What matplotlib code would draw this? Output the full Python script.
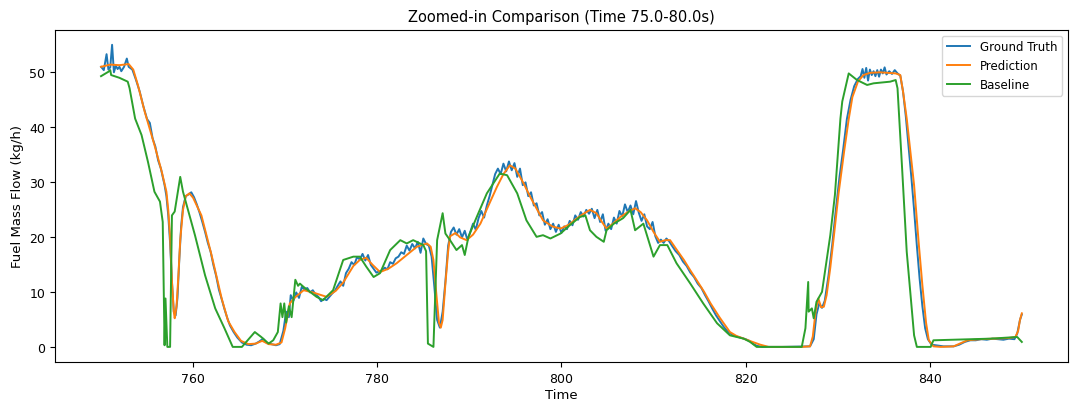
import matplotlib
matplotlib.use("Agg")
import matplotlib.pyplot as plt

# Ground truth (noisy measured signal)
gt_time = [750.0, 750.3, 750.6, 750.8, 751.0, 751.2, 751.4, 751.6, 751.8, 752.0, 752.2, 752.5, 752.8, 753.0,
           753.4, 753.8, 754.2, 754.6, 755.0, 755.3, 755.6, 755.9, 756.2, 756.5, 756.7, 756.9, 757.1, 757.3,
           757.5, 757.7, 757.9, 758.1, 758.3, 758.5, 758.7, 758.9, 759.2, 759.5, 759.8, 760.1, 760.4, 760.7,
           761.0, 761.3, 761.6, 761.9, 762.2, 762.5, 762.8, 763.1, 763.4, 763.7, 764.0, 764.4, 764.8, 765.3,
           765.8, 766.3, 766.8, 767.2, 767.6, 768.0, 768.5, 769.0, 769.4, 769.8, 770.1, 770.4, 770.6, 770.9,
           771.2, 771.5, 771.8, 772.1, 772.4, 772.7, 773.0, 773.3, 773.6, 773.9, 774.2, 774.5, 774.8, 775.1,
           775.4, 775.7, 776.0, 776.3, 776.6, 776.9, 777.2, 777.5, 777.8, 778.1, 778.4, 778.7, 779.0, 779.3,
           779.6, 779.9, 780.2, 780.5, 780.8, 781.1, 781.4, 781.7, 782.0, 782.3, 782.6, 782.9, 783.2, 783.5,
           783.8, 784.1, 784.4, 784.7, 785.0, 785.3, 785.6, 785.9, 786.2, 786.5, 786.8, 787.1, 787.4, 787.7,
           788.0, 788.3, 788.6, 788.9, 789.2, 789.5, 789.8, 790.1, 790.4, 790.7, 791.0, 791.3, 791.6, 791.9,
           792.2, 792.5, 792.8, 793.1, 793.4, 793.7, 794.0, 794.3, 794.6, 794.9, 795.2, 795.5, 795.8, 796.1,
           796.4, 796.7, 797.0, 797.3, 797.6, 797.9, 798.2, 798.5, 798.8, 799.1, 799.4, 799.7, 800.0, 800.3,
           800.6, 800.9, 801.2, 801.5, 801.8, 802.1, 802.4, 802.7, 803.0, 803.3, 803.6, 803.9, 804.2, 804.5,
           804.8, 805.1, 805.4, 805.7, 806.0, 806.3, 806.6, 806.9, 807.2, 807.5, 807.8, 808.1, 808.4, 808.7,
           809.0, 809.3, 809.6, 809.9, 810.2, 810.5, 810.8, 811.1, 811.4, 811.7, 812.0, 812.4, 812.8, 813.2,
           813.6, 814.0, 814.4, 814.8, 815.2, 815.6, 816.0, 816.4, 816.8, 817.2, 817.6, 818.0, 818.4, 818.8,
           819.2, 819.6, 820.0, 820.4, 820.8, 821.2, 821.8, 824.0, 827.0, 827.4, 827.7, 828.0, 828.3, 828.6,
           829.0, 829.4, 829.8, 830.2, 830.6, 831.0, 831.4, 831.8, 832.2, 832.5, 832.7, 832.9, 833.1, 833.3,
           833.5, 833.7, 833.9, 834.1, 834.3, 834.5, 834.7, 834.9, 835.1, 835.3, 835.6, 835.9, 836.2, 836.5,
           836.8, 837.1, 837.4, 837.7, 838.0, 838.3, 838.6, 838.9, 839.2, 839.5, 839.8, 840.2, 841.5, 842.6,
           843.2, 843.8, 844.4, 845.0, 845.6, 846.2, 846.8, 847.4, 848.0, 848.6, 849.2, 849.5, 849.8, 850.0]
gt_flow = [51.0, 50.4, 53.3, 50.5, 50.9, 55.0, 50.0, 51.2, 50.6, 51.0, 50.2, 51.0, 52.5, 51.0,
           50.5, 48.6, 46.5, 43.8, 41.5, 40.8, 38.0, 36.5, 34.0, 32.5, 31.0, 29.5, 27.5, 24.0,
           19.0, 12.0, 6.5, 5.8, 9.0, 16.0, 22.0, 25.5, 27.5, 27.8, 28.2, 27.3, 26.0, 24.5,
           22.8, 21.0, 19.0, 17.4, 15.0, 13.0, 10.5, 8.8, 7.0, 5.4, 4.0, 2.8, 1.8, 0.9,
           0.5, 0.4, 0.7, 1.1, 1.6, 0.8, 0.6, 0.4, 0.6, 3.0, 6.5, 5.5, 9.5, 8.5,
           10.0, 9.0, 11.0, 10.5, 10.8, 10.0, 10.4, 9.6, 9.2, 8.4, 8.8, 8.6, 9.2, 9.8,
           10.3, 11.2, 12.0, 11.2, 13.5, 14.3, 15.5, 15.0, 16.4, 16.0, 17.0, 15.8, 16.8, 15.0,
           14.3, 13.6, 13.8, 14.0, 14.5, 14.2, 15.5, 15.2, 16.2, 16.5, 17.3, 17.0, 18.5, 17.6,
           18.8, 18.0, 19.2, 17.2, 19.8, 18.8, 18.5, 16.5, 11.0, 5.0, 3.6, 6.5, 12.0, 18.5,
           21.0, 21.8, 20.5, 21.5, 20.0, 21.2, 19.5, 21.0, 22.5, 21.4, 23.5, 24.8, 23.6, 25.8,
           27.5, 29.5, 31.5, 32.5, 31.5, 33.4, 32.0, 33.8, 32.2, 33.5, 31.0, 32.5, 29.5, 30.0,
           27.5, 28.2, 25.8, 26.2, 24.0, 24.6, 22.3, 23.3, 21.5, 22.5, 21.0, 22.3, 20.8, 22.0,
           21.5, 23.0, 22.2, 24.0, 23.2, 24.6, 23.8, 25.0, 24.3, 25.2, 23.5, 25.0, 22.8, 24.2,
           21.2, 22.5, 21.5, 23.6, 22.5, 24.8, 23.8, 26.0, 24.6, 25.8, 24.2, 26.6, 24.5, 23.0,
           24.2, 22.0, 21.5, 22.8, 20.2, 19.0, 19.6, 19.0, 19.8, 19.3, 18.5, 17.5, 16.8, 15.6,
           14.8, 13.6, 12.8, 11.6, 10.8, 9.5, 8.3, 7.0, 5.8, 4.8, 3.8, 3.0, 2.5, 2.1,
           1.9, 1.7, 1.5, 1.2, 0.7, 0.3, 0.1, 0.1, 0.2, 1.5, 6.0, 8.0, 7.2, 8.5,
           13.0, 18.5, 25.0, 31.0, 36.0, 41.5, 45.0, 47.5, 48.8, 49.3, 50.6, 49.0, 50.8, 48.5,
           50.5, 49.5, 50.2, 49.3, 50.4, 49.2, 50.5, 49.8, 50.9, 49.6, 50.2, 49.7, 50.4, 49.8,
           49.4, 46.5, 42.0, 36.5, 31.0, 25.0, 18.5, 12.5, 7.5, 3.5, 1.5, 0.5, 0.2, 0.2,
           0.5, 1.0, 1.3, 1.3, 1.5, 1.4, 1.6, 1.5, 1.4, 1.6, 1.5, 2.5, 5.0, 6.0]

# Model prediction (smooth)
pred_time = [750.0, 750.5, 751.0, 752.0, 753.0, 753.5, 754.0, 754.75, 755.8, 756.6, 757.1, 757.3, 757.5,
             757.7, 757.9, 758.0, 758.2, 758.4, 758.6, 758.9, 759.2, 759.6, 760.0, 760.9, 762.0, 763.1,
             763.8, 764.5, 765.2, 766.0, 766.8, 767.5, 768.2, 769.0, 769.6, 770.0, 770.5, 771.0, 772.0,
             773.0, 774.5, 775.5, 776.3, 777.4, 778.1, 778.8, 779.5, 780.3, 781.2, 782.1, 783.2, 784.3,
             785.4, 785.8, 786.1, 786.4, 786.7, 786.9, 787.1, 787.4, 787.7, 787.9, 788.5, 789.0, 789.7,
             790.4, 791.2, 792.0, 793.0, 793.7, 794.4, 795.0, 795.9, 796.6, 798.0, 799.0, 799.9, 800.8,
             801.7, 802.5, 803.1, 803.8, 804.4, 804.9, 805.6, 806.4, 807.2, 808.0, 808.6, 809.3, 810.0,
             810.7, 811.3, 811.8, 812.5, 813.3, 814.0, 814.7, 815.5, 816.2, 817.2, 818.3, 819.0, 819.8,
             820.6, 821.6, 822.5, 826.0, 827.0, 827.3, 827.6, 827.9, 828.2, 828.5, 828.8, 829.2, 829.6,
             830.1, 830.7, 831.2, 831.6, 832.2, 832.8, 833.5, 834.6, 835.5, 836.3, 836.8, 837.1, 837.5,
             838.3, 838.8, 839.2, 839.6, 839.9, 840.4, 841.2, 842.6, 843.4, 844.1, 845.5, 847.0, 848.5,
             849.3, 849.6, 849.8, 850.0]
pred_flow = [51.0, 51.2, 51.4, 51.3, 51.5, 50.5, 47.7, 42.8, 36.8, 31.9, 28.3, 25.0, 20.0,
             12.0, 6.5, 5.3, 7.5, 13.0, 19.5, 25.0, 27.5, 28.0, 27.2, 24.0, 16.8, 8.9,
             4.8, 2.8, 1.2, 0.6, 0.7, 1.2, 0.6, 0.5, 0.9, 3.5, 8.0, 9.0, 10.4,
             10.0, 9.2, 10.3, 11.8, 14.8, 15.9, 16.3, 15.0, 13.7, 14.3, 15.3, 16.8, 18.3,
             18.9, 18.3, 15.9, 10.0, 4.5, 3.6, 5.0, 11.6, 17.5, 20.2, 20.8, 20.0, 19.5,
             20.5, 22.5, 25.5, 29.2, 31.5, 33.1, 32.5, 29.8, 27.4, 23.1, 22.0, 21.6, 22.3,
             23.5, 24.4, 25.0, 24.4, 22.8, 21.6, 22.5, 23.7, 24.6, 25.3, 24.6, 23.1, 21.0,
             19.2, 19.5, 19.5, 17.8, 15.9, 14.0, 12.2, 10.1, 8.0, 5.4, 2.8, 2.1, 1.6,
             1.1, 0.5, 0.1, 0.1, 0.2, 2.0, 6.5, 8.9, 7.3, 7.4, 9.5, 14.5, 20.4,
             28.0, 35.6, 41.5, 45.5, 48.3, 49.5, 49.9, 50.0, 49.9, 49.8, 49.5, 46.5, 41.6,
             29.5, 19.0, 11.3, 4.5, 1.3, 0.2, 0.1, 0.2, 0.8, 1.3, 1.5, 1.6, 1.7,
             1.9, 3.0, 5.0, 6.2]

# Baseline model
base_time = [750.0, 750.8, 751.0, 751.1, 752.0, 752.9, 753.1, 753.7, 754.4, 755.1, 755.8, 756.4, 756.7,
             756.9, 757.0, 757.2, 757.5, 757.7, 758.0, 758.6, 758.9, 760.2, 761.3, 762.4, 763.4, 764.3,
             765.3, 766.7, 767.4, 768.2, 768.7, 769.2, 769.5, 769.7, 769.9, 770.1, 770.4, 770.7, 771.1,
             771.4, 771.6, 772.0, 773.4, 774.1, 775.2, 776.3, 777.4, 778.1, 778.8, 779.6, 780.3, 781.4,
             782.5, 783.2, 783.9, 785.0, 785.3, 785.5, 786.1, 786.5, 787.1, 787.4, 787.9, 788.6, 789.2,
             789.5, 789.9, 790.8, 791.9, 793.3, 794.1, 795.2, 796.2, 797.3, 798.0, 798.8, 799.9, 800.9,
             802.0, 802.6, 803.1, 803.8, 804.6, 804.9, 805.7, 806.7, 807.5, 808.0, 808.9, 810.0, 810.7,
             811.5, 812.5, 814.0, 815.4, 816.9, 818.3, 819.8, 820.5, 821.2, 826.1, 826.5, 826.8, 826.85,
             827.2, 827.4, 827.7, 827.9, 828.3, 829.2, 829.7, 830.3, 830.5, 831.2, 832.1, 833.2, 833.9,
             835.7, 836.3, 836.5, 837.0, 837.5, 838.3, 838.6, 840.1, 840.4, 846.6, 849.5, 850.0]
base_flow = [49.3, 50.1, 50.4, 49.5, 49.0, 48.3, 47.1, 41.6, 38.6, 33.7, 28.3, 26.5, 22.8,
             0.4, 8.9, 0.1, 0.1, 24.0, 24.7, 31.0, 28.3, 20.4, 13.1, 7.1, 3.5, 0.1,
             0.1, 2.8, 1.9, 0.7, 1.3, 2.8, 8.0, 5.5, 8.0, 4.5, 7.5, 5.5, 12.3,
             11.2, 11.6, 11.0, 9.2, 8.6, 10.4, 15.9, 16.5, 16.5, 14.7, 12.8, 13.5, 17.7,
             19.5, 18.9, 19.5, 18.6, 17.5, 0.7, 0.1, 19.5, 24.4, 20.7, 19.5, 17.7, 18.6,
             16.8, 20.1, 23.7, 28.0, 31.6, 31.3, 28.0, 23.1, 20.1, 20.4, 19.8, 20.7, 22.2,
             23.7, 24.0, 21.3, 20.1, 19.2, 21.3, 22.5, 23.5, 25.0, 21.3, 22.5, 16.5, 18.6,
             18.6, 15.3, 11.6, 8.0, 4.4, 2.2, 1.6, 1.0, 0.1, 0.1, 3.5, 11.9, 6.5,
             7.1, 5.3, 8.3, 8.9, 10.1, 20.4, 27.7, 41.6, 44.7, 49.8, 48.6, 47.7, 48.0,
             48.3, 48.6, 47.1, 32.5, 17.4, 2.2, 0.1, 0.1, 1.3, 1.6, 1.9, 1.0]

fig = plt.figure(figsize=(10.7, 4.06), dpi=100)
ax = fig.add_axes([0.0514, 0.1059, 0.9466, 0.8185])

ax.plot(gt_time, gt_flow, color="#1f77b4", lw=1.4, label="Ground Truth")
ax.plot(pred_time, pred_flow, color="#ff7f0e", lw=1.4, label="Prediction")
ax.plot(base_time, base_flow, color="#2ca02c", lw=1.4, label="Baseline")

ax.set_title("Zoomed-in Comparison (Time 75.0-80.0s)", fontsize=10.5)
ax.set_xlabel("Time", fontsize=9.5, labelpad=2)
ax.set_ylabel("Fuel Mass Flow (kg/h)", fontsize=9.5)
ax.tick_params(labelsize=9)
ax.legend(loc="upper right", fontsize=8.5)

fig.savefig("out.png", dpi=100)
